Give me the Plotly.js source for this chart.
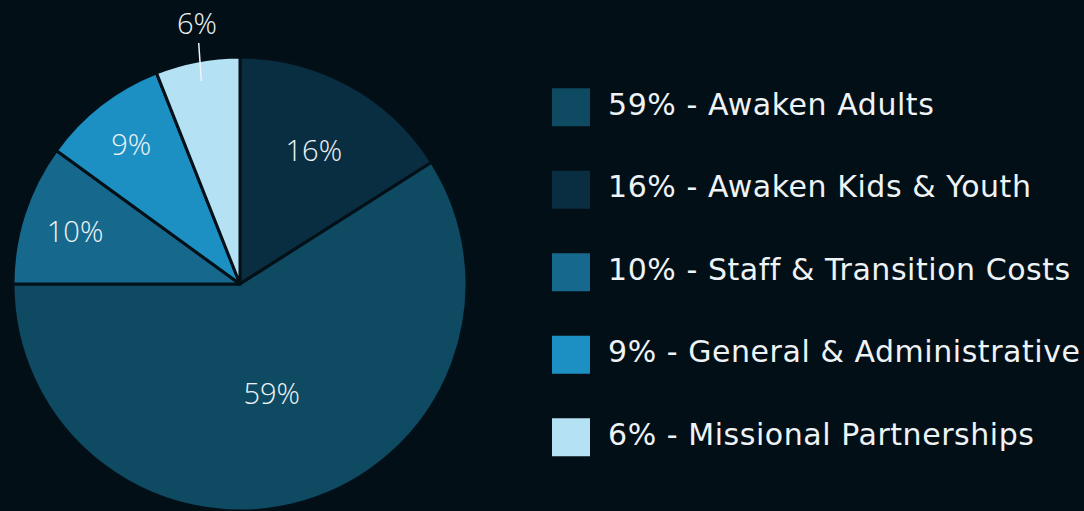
<!DOCTYPE html>
<html>
<head>
<meta charset="utf-8">
<script src="https://cdn.plot.ly/plotly-3.0.1.min.js"></script>
<style>html,body{margin:0;padding:0;background:#030f16;}#chart{width:1084px;height:511px;}
#chart .textpoint text{letter-spacing:0.55px;}</style>
</head>
<body>
<div id="chart"></div>
<script>
// Slices in clockwise order from 12 o'clock
const labels = ["Awaken Kids & Youth", "Awaken Adults", "Staff & Transition Costs", "General & Administrative", "Missional Partnerships"];
const values = [16, 59, 10, 9, 6];
const colors = ["#0a2e41", "#0f4a63", "#16698d", "#1c8fc3", "#b4e1f3"];
const textPositions = ["inside", "inside", "inside", "inside", "none"];

// Legend order (descending share)
const legendOrder = [1, 0, 2, 3, 4];
const legendLabels = legendOrder.map(i => values[i] + "% - " + labels[i]);
const legendColors = legendOrder.map(i => colors[i]);

const textColor = "#eef3f6";
const pieFont = "'Open Sans', Lato, sans-serif";
const legendFont = "'DejaVu Sans', 'Open Sans', sans-serif";

const pieDomain = {x: [0, 0.4428], y: [0, 0.8885]};
const W = 1084, H = 511;

const pie = {
  type: "pie",
  labels: labels,
  values: values,
  sort: false,
  direction: "clockwise",
  rotation: 0,
  marker: {colors: colors, line: {color: "#031018", width: 3}},
  texttemplate: "%{value}%",
  textposition: textPositions,
  insidetextorientation: "horizontal",
  textfont: {family: pieFont, size: 29, color: textColor, weight: 300},
  domain: pieDomain,
  hoverinfo: "label+percent",
  showlegend: false
};

const legendSwatches = {
  type: "scatter",
  mode: "markers",
  x: legendLabels.map(() => 0),
  y: legendLabels,
  marker: {symbol: "square", size: 38, color: legendColors, line: {width: 0}},
  hoverinfo: "skip",
  showlegend: false,
  xaxis: "x", yaxis: "y"
};
const legendText = {
  type: "scatter",
  mode: "text",
  x: legendLabels.map(() => 37),
  y: legendLabels,
  text: legendLabels,
  textposition: "middle right",
  textfont: {family: legendFont, size: 30, color: textColor},
  hoverinfo: "skip",
  showlegend: false,
  xaxis: "x", yaxis: "y"
};

// Outside label with leader line for the smallest slice, derived from its angle
const total = values.reduce((a, b) => a + b, 0);
const lastIdx = values.length - 1;
const before = values.slice(0, lastIdx).reduce((a, b) => a + b, 0);
const midAngle = (before + values[lastIdx] / 2) / total * 2 * Math.PI;
const pw = (pieDomain.x[1] - pieDomain.x[0]) * W, ph = (pieDomain.y[1] - pieDomain.y[0]) * H;
const rPx = Math.min(pw, ph) / 2;
const cxPx = (pieDomain.x[0] + pieDomain.x[1]) / 2 * W;
const cyPx = (1 - (pieDomain.y[0] + pieDomain.y[1]) / 2) * H;
const tipR = rPx * 0.91;
const tipX = cxPx + Math.sin(midAngle) * tipR;
const tipY = cyPx - Math.cos(midAngle) * tipR;

const layout = {
  width: W, height: H,
  margin: {l: 0, r: 0, t: 0, b: 0},
  paper_bgcolor: "#030f16",
  plot_bgcolor: "rgba(0,0,0,0)",
  showlegend: false,
  xaxis: {domain: [0.5, 1], range: [-29, 513], visible: false, fixedrange: true},
  yaxis: {type: "category", range: [4.893, -1.3006], visible: false, fixedrange: true},
  annotations: [{
    xref: "paper", yref: "paper",
    x: tipX / W, y: 1 - tipY / H,
    text: values[lastIdx] + "%",
    showarrow: true, arrowhead: 0, arrowwidth: 1.5, arrowcolor: textColor,
    ax: -4, ay: -59, standoff: 0,
    font: {family: pieFont, size: 29, color: textColor, weight: 300}
  }]
};

Plotly.newPlot("chart", [pie, legendSwatches, legendText], layout, {displayModeBar: false});
</script>
</body>
</html>
